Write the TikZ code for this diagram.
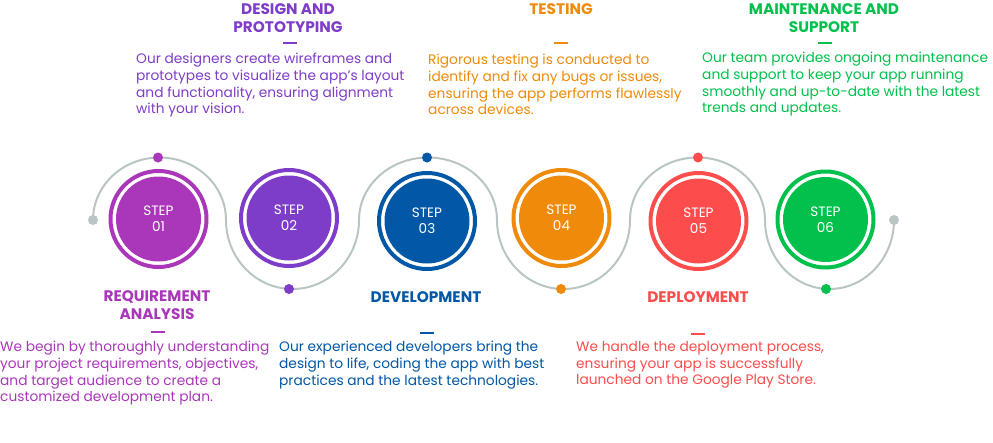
\documentclass[tikz,border=0pt]{standalone}
\usepackage{fontspec}
\setmainfont{Poppins}
\definecolor{c1}{HTML}{AA37BA}
\definecolor{c2}{HTML}{7E3DC9}
\definecolor{c3}{HTML}{0257A6}
\definecolor{c4}{HTML}{EF8A0A}
\definecolor{c5}{HTML}{FD4C4C}
\definecolor{c6}{HTML}{01C04C}
\definecolor{trackgrey}{HTML}{B9C5C4}
\begin{document}
\begin{tikzpicture}[x=1pt,y=-1pt,
  ring/.style={circle, draw=#1, line width=4pt, minimum size=96pt, inner sep=0pt},
  core/.style={circle, fill=#1, minimum size=85pt, inner sep=0pt, text=white, align=center, font=\fontsize{13.6}{16}\selectfont},
  dotmark/.style={circle, fill=#1, minimum size=10pt, inner sep=0pt},
  track/.style={draw=trackgrey, line width=2pt},
  head/.style={font=\fontsize{15.3}{18.3}\selectfont\bfseries, text=#1, align=center, inner sep=0pt, anchor=north},
  body/.style={font=\fontsize{13.75}{16.7}\selectfont, text=#1, align=left, inner sep=0pt, anchor=north west},
  hbar/.style={fill=#1, minimum width=14pt, minimum height=2pt, inner sep=0pt}]
\useasboundingbox (0,0) rectangle (993,442);

% serpentine track
\coordinate (ts) at (93,220);
\draw[track] (ts)
  arc[start angle=180, end angle=0, x radius=66.5pt, y radius=62.5pt]
  arc[start angle=180, end angle=360, x radius=66.5pt, y radius=69pt]
  arc[start angle=180, end angle=0, x radius=69pt, y radius=62.5pt]
  arc[start angle=180, end angle=360, x radius=66.5pt, y radius=69pt]
  arc[start angle=180, end angle=0, x radius=67.5pt, y radius=62.5pt]
  arc[start angle=180, end angle=360, x radius=64.5pt, y radius=69pt]
  coordinate (te);
\node[dotmark=trackgrey] (ge1) at (ts) {};
\node[dotmark=trackgrey] (ge2) at (te) {};

% dots
\node[dotmark=c1] (d1) at (158,157.5) {};
\node[dotmark=c2] (d2) at (289,289) {};
\node[dotmark=c3] (d3) at (427,157.5) {};
\node[dotmark=c4] (d4) at (561,289) {};
\node[dotmark=c5] (d5) at (698,157.5) {};
\node[dotmark=c6] (d6) at (826,289) {};

% step circles
\node[ring=c1] (r1) at (158.5,219) {};
\node[core=c1] (s1) at (r1) {STEP\\01};
\node[ring=c2] (r2) at (289,218) {};
\node[core=c2] (s2) at (r2) {STEP\\02};
\node[ring=c3] (r3) at (427,221) {};
\node[core=c3] (s3) at (r3) {STEP\\03};
\node[ring=c4] (r4) at (561.5,218) {};
\node[core=c4] (s4) at (r4) {STEP\\04};
\node[ring=c5] (r5) at (698.5,221) {};
\node[core=c5] (s5) at (r5) {STEP\\05};
\node[ring=c6] (r6) at (825.5,219.5) {};
\node[core=c6] (s6) at (r6) {STEP\\06};

% top texts
\node[head=c2] (h2) at (288,3) {DESIGN AND\\PROTOTYPING};
\node[hbar=c2] (b2) at (290,43) {};
\node[body=c2] (t2) at (136,53) {Our designers create wireframes and\\prototypes to visualize the app's layout\\and functionality, ensuring alignment\\with your vision.};

\node[head=c4] (h4) at (561,3) {TESTING};
\node[hbar=c4] (b4) at (561,43) {};
\node[body=c4] (t4) at (428,54) {Rigorous testing is conducted to\\identify and fix any bugs or issues,\\ensuring the app performs flawlessly\\across devices.};

\node[head=c6] (h6) at (824,3) {MAINTENANCE AND\\SUPPORT};
\node[hbar=c6] (b6) at (825,43) {};
\node[body=c6] (t6) at (702,52) {Our team provides ongoing maintenance\\and support to keep your app running\\smoothly and up-to-date with the latest\\trends and updates.};

% bottom texts
\node[head=c1] (h1) at (157,290) {REQUIREMENT\\ANALYSIS};
\node[hbar=c1] (b1) at (158,332) {};
\node[body=c1] (t1) at (0,341) {We begin by thoroughly understanding\\your project requirements, objectives,\\and target audience to create a\\customized development plan.};

\node[head=c3] (h3) at (426,291) {DEVELOPMENT};
\node[hbar=c3] (b3) at (427,333) {};
\node[body=c3] (t3) at (279,341) {Our experienced developers bring the\\design to life, coding the app with best\\practices and the latest technologies.};

\node[head=c5] (h5) at (698,291) {DEPLOYMENT};
\node[hbar=c5] (b5) at (698,334) {};
\node[body=c5] (t5) at (576,341) {We handle the deployment process,\\ensuring your app is successfully\\launched on the Google Play Store.};
\end{tikzpicture}
\end{document}
